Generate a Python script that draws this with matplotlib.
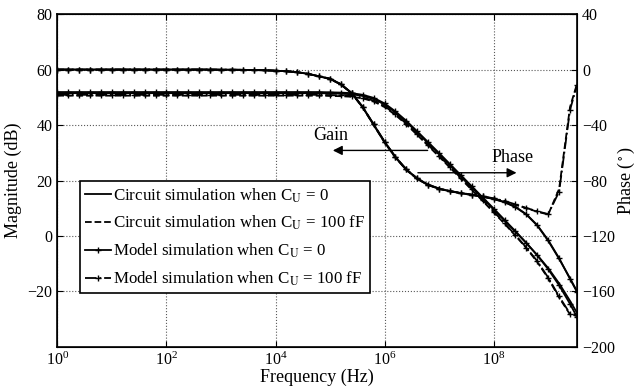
import matplotlib
matplotlib.use('Agg')
import matplotlib.pyplot as plt
import numpy as np
from matplotlib.ticker import NullLocator

plt.rcParams['font.family'] = 'serif'
plt.rcParams['font.serif'] = ['Liberation Serif', 'DejaVu Serif']
plt.rcParams['mathtext.fontset'] = 'stix'

# frequency grid (log10 of Hz)
freq_exp = [0.0, 0.2, 0.4, 0.6, 0.8, 1.0, 1.2, 1.4, 1.6, 1.8,
            2.0, 2.2, 2.4, 2.6, 2.8, 3.0, 3.2, 3.4, 3.6, 3.8,
            4.0, 4.2, 4.4, 4.6, 4.8, 5.0, 5.2, 5.4, 5.6, 5.8,
            6.0, 6.2, 6.4, 6.6, 6.8, 7.0, 7.2, 7.4, 7.6, 7.8,
            8.0, 8.2, 8.4, 8.6, 8.8, 9.0, 9.2, 9.4, 9.53]

# magnitude (dB)
mag_circ_0 = [51.5] * 24 + [51.5, 51.4, 51.3, 51.1, 50.5, 49.4, 47.4, 44.5, 41.1, 37.3,
                            33.4, 29.5, 25.5, 21.5, 17.5, 13.5, 9.5, 5.5, 1.5, -2.6,
                            -6.9, -11.6, -17.1, -23.4, -27.8]
mag_circ_100 = [50.6] * 24 + [50.6, 50.5, 50.4, 50.2, 49.6, 48.5, 46.5, 43.6, 40.2, 36.4,
                              32.5, 28.6, 24.6, 20.6, 16.6, 12.6, 8.5, 4.4, 0.1, -4.4,
                              -9.4, -15.3, -22.2, -28.3, -28.8]
mag_model_0 = [51.9] * 24 + [51.9, 51.8, 51.7, 51.5, 50.9, 49.8, 47.8, 44.9, 41.5, 37.7,
                             33.8, 29.9, 25.9, 21.9, 17.9, 13.9, 9.9, 5.8, 1.7, -2.5,
                             -7.0, -12.0, -17.8, -24.5, -29.3]
mag_model_100 = [50.9] * 24 + [50.9, 50.8, 50.7, 50.5, 49.9, 48.8, 46.8, 43.9, 40.5, 36.7,
                               32.8, 28.9, 24.9, 20.9, 16.9, 12.9, 8.8, 4.6, 0.3, -4.2,
                               -9.1, -15.0, -21.8, -28.0, -28.5]

# phase (degrees)
ph_circ_0 = [0.0] * 15 + [-0.1, -0.1, -0.2, -0.3, -0.5, -0.8, -1.2, -1.9, -3.1, -4.9,
                          -6.8, -10.8, -17.3, -27.4, -40.0, -52.5, -63.5, -72.4, -78.9, -83.3,
                          -86.0, -87.8, -89.2, -90.4, -91.7, -93.4, -95.7, -99.2, -104.6, -112.5,
                          -123.5, -136.5, -150.5, -160.0]
ph_circ_100 = [0.0] * 15 + [-0.1, -0.1, -0.2, -0.3, -0.5, -0.8, -1.2, -1.9, -3.1, -4.9,
                            -6.8, -10.8, -17.3, -27.4, -40.0, -52.5, -63.5, -72.4, -78.9, -83.3,
                            -86.0, -87.8, -89.2, -90.4, -91.7, -93.0, -95.0, -97.5, -100.0, -102.5,
                            -104.5, -86.0, -27.0, -10.0]
ph_model_0 = [0.0] * 15 + [-0.1, -0.1, -0.2, -0.3, -0.5, -0.8, -1.2, -1.9, -3.1, -4.9,
                           -6.5, -10.5, -17.0, -27.0, -39.5, -52.0, -63.0, -72.0, -78.5, -83.0,
                           -85.8, -87.6, -89.0, -90.2, -91.5, -93.2, -95.5, -99.0, -104.3, -112.2,
                           -123.0, -136.0, -151.0, -160.5]
ph_model_100 = [0.0] * 15 + [-0.1, -0.1, -0.2, -0.3, -0.5, -0.8, -1.2, -1.9, -3.1, -4.9,
                             -6.5, -10.5, -17.0, -27.0, -39.5, -52.0, -63.0, -72.0, -78.5, -83.0,
                             -85.8, -87.6, -89.0, -90.2, -91.5, -92.8, -94.8, -97.2, -99.8, -102.2,
                             -104.2, -88.0, -29.0, -11.0]

labels = ['Circuit simulation when C$_\\mathrm{U}$ = 0',
          'Circuit simulation when C$_\\mathrm{U}$ = 100 fF',
          'Model simulation when C$_\\mathrm{U}$ = 0',
          'Model simulation when C$_\\mathrm{U}$ = 100 fF']

freq = 10 ** np.array(freq_exp)

fig = plt.figure(figsize=(6.37, 3.92), dpi=100)
ax = fig.add_axes([0.09, 0.115, 0.816, 0.849])
ax2 = ax.twinx()

lw = 1.3
ms = 5
h1, = ax.semilogx(freq, mag_circ_0, 'k-', lw=lw)
h2, = ax.semilogx(freq, mag_circ_100, 'k--', lw=lw)
h3, = ax.semilogx(freq, mag_model_0, 'k-', lw=lw, marker='+', ms=ms, mew=1)
h4, = ax.semilogx(freq, mag_model_100, 'k-.', lw=lw, marker='+', ms=ms, mew=1)

ax2.semilogx(freq, ph_circ_0, 'k-', lw=lw)
ax2.semilogx(freq, ph_circ_100, 'k--', lw=lw)
ax2.semilogx(freq, ph_model_0, 'k-', lw=lw, marker='+', ms=ms, mew=1)
ax2.semilogx(freq, ph_model_100, 'k-.', lw=lw, marker='+', ms=ms, mew=1)

ax.set_xlim(1, 10 ** 9.53)
ax.set_ylim(-40, 80)
ax2.set_ylim(-200, 40)
ax.set_xticks([1, 1e2, 1e4, 1e6, 1e8])
ax.xaxis.set_minor_locator(NullLocator())
ax.set_yticks([-20, 0, 20, 40, 60, 80])
ax2.set_yticks([-200, -160, -120, -80, -40, 0, 40])

ax.grid(True, linestyle=':', color='0.35', lw=0.8)
ax.tick_params(direction='in', labelsize=11.5, top=True, length=4, width=0.8)
ax2.tick_params(direction='in', labelsize=11.5, length=4, width=0.8)
for sp in ax2.spines.values():
    sp.set_linewidth(1.2)

ax.set_xlabel('Frequency (Hz)', fontsize=13, labelpad=0)
ax.set_ylabel('Magnitude (dB)', fontsize=13)
ax2.set_ylabel('Phase ($^\\circ$)', fontsize=13, labelpad=1)

# gain / phase pointers
ax.annotate('', xy=(10 ** 5.0, 30.85), xytext=(10 ** 6.84, 30.85),
            arrowprops=dict(arrowstyle='-|>', color='k', lw=1, mutation_scale=14))
ax.text(10 ** 5.02, 36.1, 'Gain', ha='center', va='center', fontsize=13)
ax.annotate('', xy=(10 ** 8.47, 22.8), xytext=(10 ** 6.56, 22.8),
            arrowprops=dict(arrowstyle='-|>', color='k', lw=1, mutation_scale=14))
ax.text(10 ** 8.34, 28.2, 'Phase', ha='center', va='center', fontsize=13)

leg = ax2.legend([h1, h2, h3, h4], labels, loc='lower left',
                 bbox_to_anchor=(0.044, 0.162), borderaxespad=0, fontsize=12.2,
                 fancybox=False, framealpha=1, edgecolor='k',
                 handlelength=1.5, handletextpad=0.15, labelspacing=0.55,
                 borderpad=0.3, markerscale=1)
leg.get_frame().set_linewidth(1.2)

fig.savefig('out.png', dpi=100)
